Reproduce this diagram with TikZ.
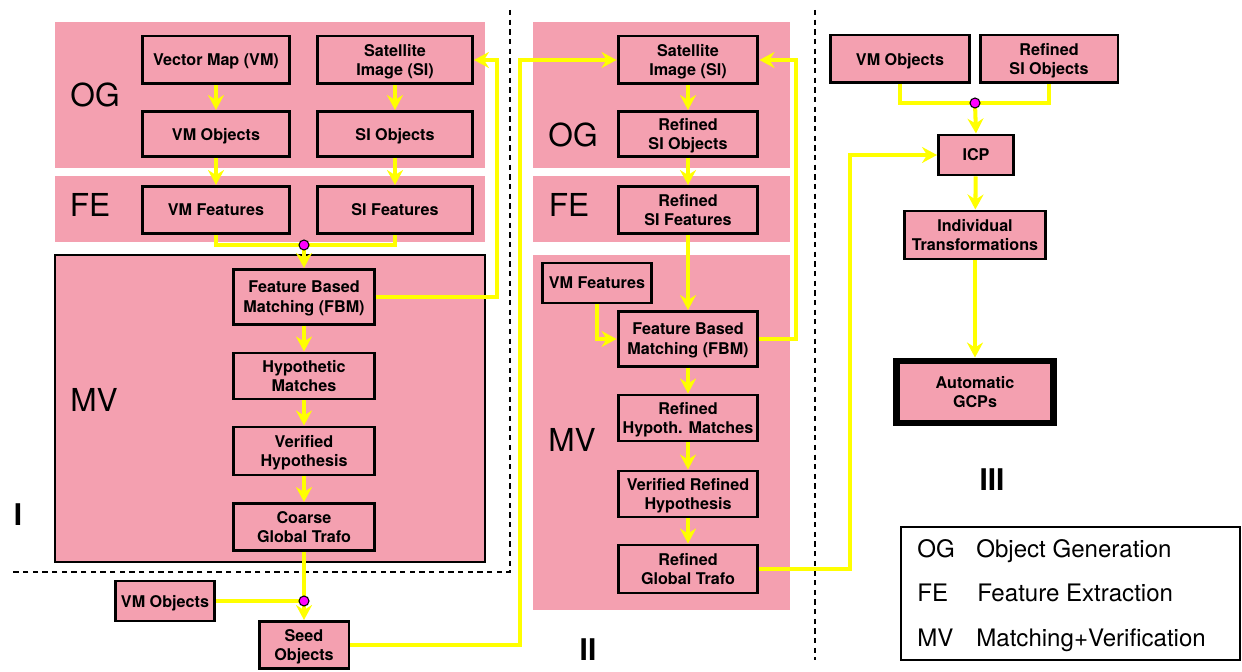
\documentclass[tikz,border=0pt]{standalone}
\usepackage{fontspec}
\setmainfont{TeX Gyre Heros}
\usetikzlibrary{arrows.meta,calc}
\definecolor{pk}{RGB}{244,160,176}
\definecolor{yl}{RGB}{255,255,0}
\definecolor{mg}{RGB}{255,0,255}
\begin{document}
\begin{tikzpicture}[x=0.02cm,y=-0.02cm,
 box/.style={draw=black,line width=1.7pt,fill=pk,font=\bfseries\fontsize{9.2}{11.3}\selectfont,align=center,inner sep=0pt,text depth=0pt},
 yline/.style={draw=yl,line width=2.3pt},
 yarrow/.style={yline,-{Stealth[length=0.3cm,width=0.32cm,inset=0.1cm]}},
 dot/.style={circle,fill=mg,draw=black,line width=0.6pt,minimum size=0.2cm,inner sep=0pt},
 big/.style={font=\fontsize{18}{20}\selectfont,inner sep=0pt},
 roman/.style={font=\bfseries\fontsize{17}{20}\selectfont,inner sep=0pt},
 leg/.style={font=\fontsize{13.7}{16}\selectfont,anchor=base west,inner sep=0pt},
 sep/.style={draw=black,line width=1.1pt,dash pattern=on 3pt off 2.5pt}]
\useasboundingbox (0,0) rectangle (1242,672);
% regions
\fill[pk] (55,22) rectangle (485,168);
\fill[pk] (55,176) rectangle (485,242);
\filldraw[fill=pk,draw=black,line width=1.2pt] (55,255) rectangle (485,562);
\fill[pk] (533,22) rectangle (790,168);
\fill[pk] (533,176) rectangle (790,242);
\fill[pk] (533,255) rectangle (790,610);
% separators
\draw[sep] (510,10) -- (510,572) -- (10,572);
\draw[sep] (815,10) -- (815,660);
% labels
\node[big] (og1) at (95,95) {OG};
\node[big] (fe1) at (90,205) {FE};
\node[big] (mv1) at (94,400) {MV};
\node[big] (og2) at (573,135) {OG};
\node[big] (fe2) at (569,205) {FE};
\node[big] (mv2) at (572,440) {MV};
\node[roman] (r1) at (18,515) {I};
\node[roman] (r2) at (588,650) {II};
\node[roman] (r3) at (992,480) {III};
% column I
\node[box,minimum width=2.96cm,minimum height=0.96cm] (vm) at (216,60) {Vector Map (VM)};
\node[box,minimum width=3.10cm,minimum height=0.96cm] (si) at (395,60) {Satellite\\Image (SI)};
\node[box,minimum width=2.96cm,minimum height=0.90cm] (vmo) at (216,134) {VM Objects};
\node[box,minimum width=3.10cm,minimum height=0.90cm] (sio) at (395,134) {SI Objects};
\node[box,minimum width=2.96cm,minimum height=0.94cm] (vmf) at (216,210) {VM Features};
\node[box,minimum width=3.10cm,minimum height=0.94cm] (sif) at (395,210) {SI Features};
\node[box,minimum width=2.82cm,minimum height=1.10cm] (fbm) at (304,297) {Feature Based\\Matching (FBM)};
\node[box,minimum width=2.82cm,minimum height=0.92cm] (hyp) at (304,376) {Hypothetic\\Matches};
\node[box,minimum width=2.82cm,minimum height=0.96cm] (ver) at (304,451) {Verified\\Hypothesis};
\node[box,minimum width=2.82cm,minimum height=0.94cm] (cgt) at (304,527) {Coarse\\Global Trafo};
\node[box,minimum width=2.00cm,minimum height=0.80cm] (vmo2) at (165,601) {VM Objects};
\node[box,minimum width=1.80cm,minimum height=0.94cm] (seed) at (304,645) {Seed\\Objects};
% column II
\node[box,minimum width=2.80cm,minimum height=0.96cm] (si2) at (688,60) {Satellite\\Image (SI)};
\node[box,minimum width=2.80cm,minimum height=0.90cm] (rsio) at (688,134) {Refined\\SI Objects};
\node[box,minimum width=2.80cm,minimum height=0.94cm] (rsif) at (688,210) {Refined\\SI Features};
\node[box,minimum width=2.18cm,minimum height=0.80cm] (vmf2) at (597,283) {VM Features};
\node[box,minimum width=2.80cm,minimum height=1.10cm] (fbm2) at (688,339) {Feature Based\\Matching (FBM)};
\node[box,minimum width=2.80cm,minimum height=0.92cm] (rhm) at (688,418) {Refined\\Hypoth. Matches};
\node[box,minimum width=2.80cm,minimum height=0.92cm] (vrh) at (688,494) {Verified Refined\\Hypothesis};
\node[box,minimum width=2.80cm,minimum height=0.96cm] (rgt) at (688,569) {Refined\\Global Trafo};
% column III
\node[box,minimum width=2.80cm,minimum height=0.96cm] (vmo3) at (900,59) {VM Objects};
\node[box,minimum width=2.76cm,minimum height=0.96cm] (rsio3) at (1049,59) {Refined\\SI Objects};
\node[box,minimum width=1.50cm,minimum height=0.80cm] (icp) at (976,155) {ICP};
\node[box,minimum width=2.82cm,minimum height=0.96cm] (ind) at (975,235) {Individual\\Transformations};
\node[box,line width=3.97pt,minimum width=3.14cm,minimum height=1.24cm] (gcp) at (975,392) {Automatic\\GCPs};
\draw[line width=1pt] ([shift={(0.12cm,-0.12cm)}]gcp.north west) rectangle ([shift={(-0.12cm,0.12cm)}]gcp.south east);
% junctions and bends
\coordinate (j1) at (304,245);
\coordinate (j2) at (304,601);
\coordinate (j3) at (975,103);
\coordinate (c1) at (497,60);
\coordinate (c2) at (520,60);
\coordinate (c3) at (796,60);
\coordinate (c4) at (850,155);
% connectors column I
\draw[yarrow] (vm) -- (vmo);
\draw[yarrow] (si) -- (sio);
\draw[yarrow] (vmo) -- (vmf);
\draw[yarrow] (sio) -- (sif);
\draw[yline] (vmf.south) |- (j1) -| (sif.south);
\draw[yarrow] (j1) -- (fbm.north);
\draw[yarrow] (fbm) -- (hyp);
\draw[yarrow] (hyp) -- (ver);
\draw[yarrow] (ver) -- (cgt);
\draw[yarrow] (fbm.east) -| (c1) -- (si.east);
\draw[yline] (cgt.south) -- (j2);
\draw[yline] (vmo2.east) -- (j2);
\draw[yarrow] (j2) -- (seed.north);
\draw[yarrow] (seed.east) -| (c2) -- (si2.west);
% connectors column II
\draw[yarrow] (si2) -- (rsio);
\draw[yarrow] (rsio) -- (rsif);
\draw[yarrow] (rsif) -- (fbm2);
\draw[yarrow] (vmf2.south) |- (fbm2.west);
\draw[yarrow] (fbm2.east) -| (c3) -- (si2.east);
\draw[yarrow] (fbm2) -- (rhm);
\draw[yarrow] (rhm) -- (vrh);
\draw[yarrow] (vrh) -- (rgt);
\draw[yarrow] (rgt.east) -| (c4) -- (icp.west);
% connectors column III
\draw[yline] (vmo3.south) |- (j3) -| (rsio3.south);
\draw[yarrow] (j3) -- (icp.north);
\draw[yarrow] (icp) -- (ind);
\draw[yarrow] (ind) -- (gcp);
% dots
\node[dot] (d1) at (j1) {};
\node[dot] (d2) at (j2) {};
\node[dot] (d3) at (j3) {};
% legend
\draw[black,line width=1.2pt] (901,527) rectangle (1240,660);
\node[leg] (l1a) at (917,558) {OG};
\node[leg] (l1b) at (976,558) {Object Generation};
\node[leg] (l2a) at (917,602) {FE};
\node[leg] (l2b) at (977,602) {Feature Extraction};
\node[leg] (l3a) at (917,646) {MV};
\node[leg] (l3b) at (976,646) {Matching+Verification};
\end{tikzpicture}
\end{document}
